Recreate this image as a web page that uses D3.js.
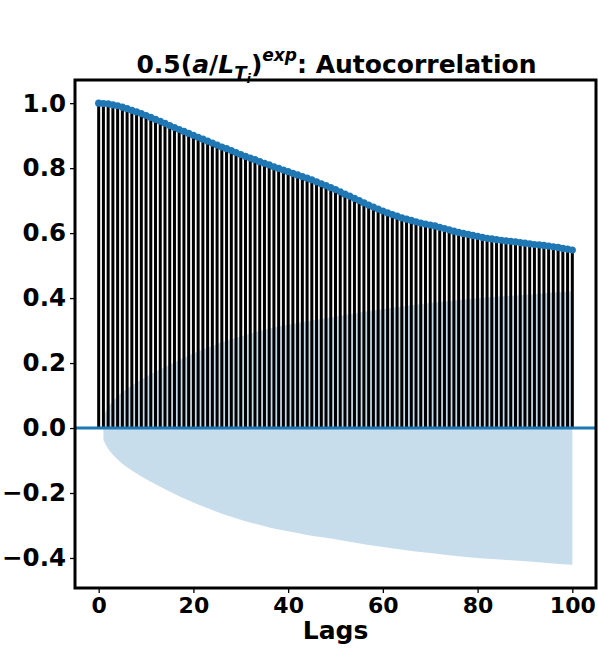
<!DOCTYPE html>
<html><head><meta charset="utf-8">
<script src="https://cdn.jsdelivr.net/npm/d3@7"></script>
<style>body{margin:0;background:#fff} svg{display:block}</style>
</head><body>
<svg id="chart" width="598" height="648"></svg>
<script>
// ---- data ----
const acfValues = [
  1.000, 0.999, 0.998, 0.995, 0.992, 0.988, 0.983, 0.978, 0.973, 0.968,
  0.962, 0.956, 0.950, 0.944, 0.938, 0.931, 0.925, 0.919, 0.913, 0.907,
  0.901, 0.895, 0.889, 0.883, 0.877, 0.871, 0.865, 0.860, 0.854, 0.848,
  0.842, 0.836, 0.831, 0.826, 0.820, 0.815, 0.810, 0.804, 0.799, 0.794,
  0.789, 0.784, 0.779, 0.774, 0.769, 0.764, 0.758, 0.752, 0.746, 0.740,
  0.734, 0.727, 0.720, 0.714, 0.707, 0.700, 0.693, 0.686, 0.680, 0.674,
  0.668, 0.662, 0.657, 0.652, 0.647, 0.643, 0.639, 0.635, 0.631, 0.628,
  0.625, 0.622, 0.618, 0.614, 0.610, 0.606, 0.602, 0.599, 0.596, 0.593,
  0.590, 0.587, 0.584, 0.582, 0.580, 0.578, 0.576, 0.575, 0.573, 0.571,
  0.569, 0.567, 0.565, 0.564, 0.562, 0.560, 0.558, 0.556, 0.553, 0.551,
  0.548
];
const lags = acfValues.map((_, i) => i);

// confidence band (half-width around 0) at selected lags
const bandLags = [1, 2, 3, 4, 5, 7, 9, 12, 15, 19, 23, 26, 30, 33, 36, 40, 44, 48, 52, 57, 63, 70, 77, 84, 91, 96, 100];
const bandHalf = [0.037, 0.064, 0.082, 0.097, 0.110, 0.131, 0.149, 0.173, 0.195, 0.223, 0.247, 0.264, 0.282, 0.295, 0.306, 0.318, 0.329, 0.338, 0.348, 0.360, 0.372, 0.385, 0.396, 0.404, 0.411, 0.417, 0.421];

const xTicks = [0, 20, 40, 60, 80, 100];
const yTicks = [-0.4, -0.2, 0.0, 0.2, 0.4, 0.6, 0.8, 1.0];
const xLabel = "Lags";

// ---- layout ----
const plot = {left: 75, right: 596, top: 80, bottom: 588};
const blue = "#1f77b4";
const font = "'DejaVu Sans', sans-serif";

const svg = d3.select("#chart");
const x = d3.scaleLinear().domain([-5, 105]).range([plot.left, plot.right]);
const y = d3.scaleLinear().domain([-0.4924, 1.0713]).range([plot.bottom, plot.top]);

// band
const band = bandLags.map((l, i) => ({l, h: bandHalf[i]}));
svg.append("path")
  .datum(band)
  .attr("d", d3.area().curve(d3.curveMonotoneX)
    .x(d => x(d.l)).y0(d => y(-d.h)).y1(d => y(d.h)))
  .attr("fill", blue).attr("fill-opacity", 0.25);

// stems
const pts = lags.map((l, i) => ({l, v: acfValues[i]}));
svg.append("g").selectAll("line").data(pts).join("line")
  .attr("x1", d => x(d.l)).attr("x2", d => x(d.l))
  .attr("y1", y(0)).attr("y2", d => y(d.v))
  .attr("stroke", "#000").attr("stroke-width", 3);

// zero line
svg.append("line")
  .attr("x1", plot.left).attr("x2", plot.right)
  .attr("y1", y(0)).attr("y2", y(0))
  .attr("stroke", blue).attr("stroke-width", 3);

// markers
svg.append("g").selectAll("circle").data(pts).join("circle")
  .attr("cx", d => x(d.l)).attr("cy", d => y(d.v)).attr("r", 3.6)
  .attr("fill", blue);

// axes
const yAxis = svg.append("g").attr("transform", `translate(${plot.left},0)`)
  .call(d3.axisLeft(y).tickValues(yTicks).tickFormat(d3.format(".1f")).tickSize(5).tickPadding(4));
yAxis.select(".domain").remove();
yAxis.selectAll("text").attr("font-family", font).attr("font-weight", "bold")
  .attr("font-size", 24.5).attr("fill", "#000");
yAxis.selectAll("line").attr("stroke-width", 1.3);

const xAxis = svg.append("g").attr("transform", `translate(0,${plot.bottom})`)
  .call(d3.axisBottom(x).tickValues(xTicks).tickFormat(d3.format("d")).tickSize(5).tickPadding(4));
xAxis.select(".domain").remove();
xAxis.selectAll("text").attr("font-family", font).attr("font-weight", "bold")
  .attr("font-size", 22).attr("fill", "#000");
xAxis.selectAll("line").attr("stroke-width", 1.3);

// spines
svg.append("rect")
  .attr("x", plot.left).attr("y", plot.top)
  .attr("width", plot.right - plot.left).attr("height", plot.bottom - plot.top)
  .attr("fill", "none").attr("stroke", "#000").attr("stroke-width", 3);

// x label
svg.append("text")
  .attr("x", (plot.left + plot.right) / 2).attr("y", 639)
  .attr("text-anchor", "middle")
  .attr("font-family", font).attr("font-weight", "bold").attr("font-size", 25)
  .text(xLabel);

// title
const title = svg.append("text")
  .attr("x", (plot.left + plot.right) / 2 + 1).attr("y", 73)
  .attr("text-anchor", "middle")
  .attr("font-family", font).attr("font-weight", "bold").attr("font-size", 25);
title.append("tspan").text("0.5(");
title.append("tspan").attr("font-style", "italic").text("a");
title.append("tspan").text("/");
title.append("tspan").attr("font-style", "italic").text("L");
title.append("tspan").attr("font-style", "italic").attr("font-size", 18).attr("dy", 6).text("T");
title.append("tspan").attr("font-style", "italic").attr("font-size", 13).attr("dy", 4).text("i");
title.append("tspan").attr("dy", -10).text(")");
title.append("tspan").attr("font-style", "italic").attr("font-size", 17).attr("dy", -12).text("exp");
title.append("tspan").attr("dy", 12).text(": Autocorrelation");
</script>
</body></html>
